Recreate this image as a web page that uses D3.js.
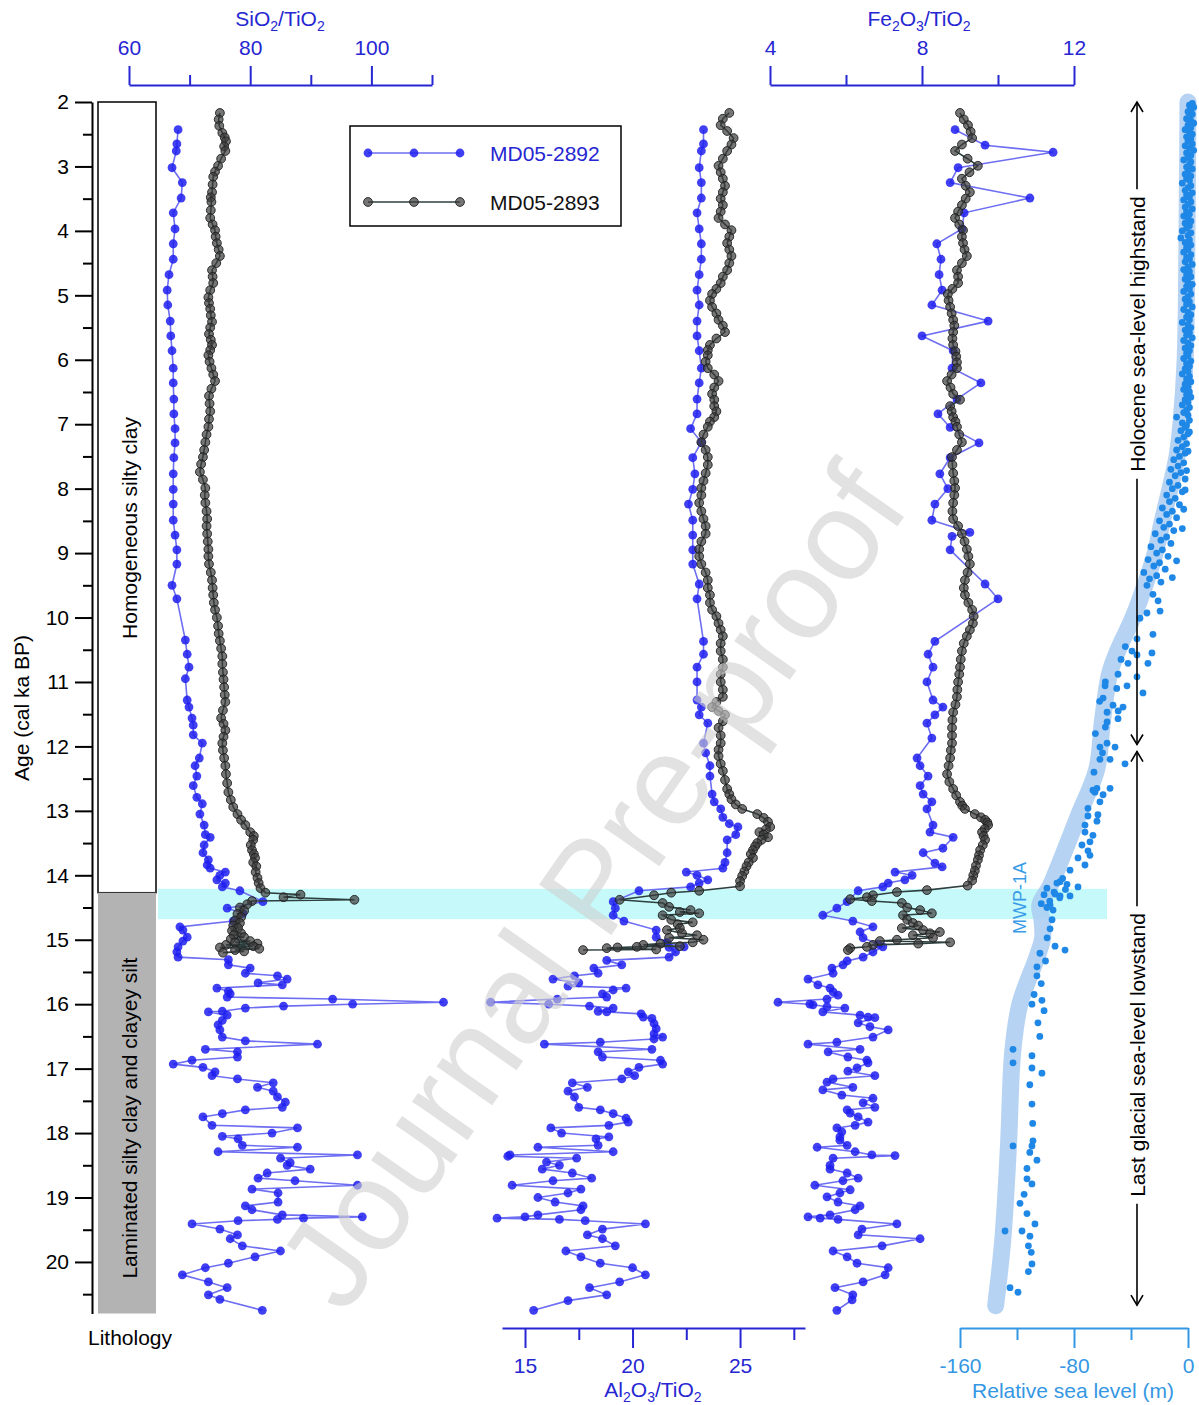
<!DOCTYPE html>
<html>
<head>
<meta charset="utf-8">
<script src="https://cdn.jsdelivr.net/npm/d3@7"></script>
<style>
  body { margin: 0; background: #fff; }
  svg { display: block; }
  text { font-family: "Liberation Sans", Arial, sans-serif; }
</style>
</head>
<body>
<div id="chart"></div>
<script>
// ---- data: [age (cal ka BP), value] ----
const si2892 = [[2.43,68.1],[2.65,67.9],[2.76,67.8],[3.02,67.1],[3.25,68.8],[3.49,68.6],[3.72,67.3],[3.97,67.6],[4.20,67.3],[4.44,67.3],[4.68,66.6],[4.92,66.3],[5.15,66.4],[5.40,66.8],[5.63,66.9],[5.86,67.1],[6.13,67.3],[6.36,67.3],[6.61,67.4],[6.84,67.4],[7.07,67.6],[7.29,67.6],[7.52,67.4],[7.77,67.3],[8.01,67.3],[8.24,67.3],[8.49,67.3],[8.72,67.6],[8.95,67.9],[9.17,67.9],[9.50,67.1],[9.71,67.9],[10.35,69.3],[10.57,69.6],[10.77,69.9],[10.95,69.3],[11.28,69.6],[11.39,69.9],[11.56,70.4],[11.67,70.6],[11.82,70.6],[11.95,72.1],[12.18,71.6],[12.30,70.9],[12.46,71.2],[12.61,70.6],[12.79,71.2],[12.89,72.1],[13.05,71.7],[13.22,72.4],[13.37,72.6],[13.41,73.4],[13.53,72.4],[13.65,72.2],[13.76,73.1],[13.84,72.9],[13.89,73.4],[13.95,75.9],[14.00,75.0],[14.07,74.5],[14.12,75.9],[14.18,75.4],[14.24,78.3],[14.41,82.1],[14.51,76.2],[14.59,78.8],[14.71,77.2],[14.80,68.4],[14.85,68.9],[14.96,69.6],[15.02,68.9],[15.11,68.1],[15.19,67.9],[15.27,68.1],[15.31,76.4],[15.39,76.4],[15.44,80.0],[15.52,79.2],[15.56,84.5],[15.61,86.1],[15.67,81.3],[15.70,85.3],[15.75,74.5],[15.80,76.4],[15.84,76.7],[15.89,76.2],[15.92,93.6],[15.97,111.9],[16.00,96.9],[16.03,85.5],[16.06,79.2],[16.11,75.4],[16.12,73.1],[16.17,76.2],[16.25,75.4],[16.32,74.7],[16.40,75.0],[16.51,75.4],[16.57,79.2],[16.62,91.1],[16.70,72.6],[16.74,77.9],[16.82,77.9],[16.87,70.4],[16.93,67.3],[16.98,72.2],[17.05,74.2],[17.11,73.7],[17.16,77.9],[17.22,83.8],[17.29,81.2],[17.35,83.8],[17.44,84.5],[17.52,85.8],[17.60,85.3],[17.64,79.2],[17.70,75.4],[17.75,72.2],[17.88,73.7],[17.92,87.8],[18.00,83.6],[18.05,75.4],[18.09,78.0],[18.19,78.7],[18.22,87.8],[18.29,74.7],[18.34,97.7],[18.39,85.0],[18.46,86.6],[18.50,86.1],[18.56,89.9],[18.62,82.8],[18.70,81.3],[18.74,87.4],[18.81,97.7],[18.87,80.3],[18.93,84.6],[19.07,84.6],[19.13,79.2],[19.19,80.3],[19.27,85.3],[19.30,98.5],[19.32,88.8],[19.34,84.5],[19.36,78.0],[19.41,70.4],[19.49,75.0],[19.58,77.9],[19.64,76.7],[19.75,78.7],[19.83,85.0],[19.92,80.8],[20.02,76.4],[20.09,72.6],[20.20,68.8],[20.31,73.1],[20.40,76.2],[20.51,73.1],[20.58,75.0],[20.75,82.0]];

const al2892 = [[2.43,23.3],[2.65,23.3],[2.76,23.2],[3.02,23.1],[3.25,23.2],[3.49,23.2],[3.72,23.0],[3.97,23.1],[4.20,23.2],[4.44,23.2],[4.68,23.1],[4.92,23.0],[5.15,23.1],[5.40,23.0],[5.63,23.0],[5.86,23.1],[6.13,23.2],[6.36,23.1],[6.61,23.0],[6.84,23.0],[7.07,22.7],[7.28,23.2],[7.52,22.8],[7.77,22.9],[8.01,22.8],[8.24,22.6],[8.49,22.8],[8.72,22.8],[8.95,22.8],[9.17,22.8],[9.48,23.1],[9.71,23.0],[10.37,23.3],[10.57,23.3],[10.77,23.0],[11.00,23.0],[11.28,23.0],[11.39,23.2],[11.51,23.1],[11.64,23.5],[11.95,23.3],[12.10,23.4],[12.30,23.6],[12.46,23.6],[12.74,23.7],[12.86,23.8],[12.97,24.1],[13.10,24.2],[13.20,24.5],[13.25,24.9],[13.37,24.8],[13.45,24.4],[13.65,24.4],[13.80,24.3],[13.89,24.2],[13.95,22.5],[14.00,23.0],[14.07,23.5],[14.12,23.1],[14.18,22.7],[14.24,20.3],[14.41,19.1],[14.51,19.2],[14.62,19.1],[14.71,19.6],[14.85,21.1],[14.96,21.1],[15.04,21.6],[15.11,22.4],[15.12,21.7],[15.19,22.0],[15.27,21.7],[15.32,18.8],[15.39,19.5],[15.44,18.2],[15.52,18.4],[15.56,17.3],[15.61,16.3],[15.67,17.5],[15.72,17.0],[15.75,19.7],[15.78,19.1],[15.84,18.6],[15.89,18.8],[15.92,16.5],[15.97,13.4],[16.00,16.1],[16.03,18.0],[16.06,19.1],[16.11,18.4],[16.12,18.8],[16.15,20.4],[16.20,20.5],[16.22,20.9],[16.30,21.0],[16.38,21.1],[16.46,21.0],[16.51,21.4],[16.54,21.0],[16.59,18.5],[16.62,15.9],[16.70,20.9],[16.74,18.4],[16.82,18.6],[16.87,21.3],[16.93,21.4],[16.98,20.3],[17.05,19.8],[17.11,20.1],[17.16,19.5],[17.22,17.2],[17.29,17.9],[17.35,17.0],[17.44,17.3],[17.60,17.5],[17.64,18.5],[17.70,19.1],[17.77,19.7],[17.83,19.8],[17.88,18.9],[17.92,16.2],[18.00,16.7],[18.06,18.9],[18.09,18.3],[18.19,18.4],[18.22,15.6],[18.29,19.1],[18.34,14.3],[18.36,14.2],[18.39,17.4],[18.45,16.0],[18.50,16.6],[18.56,15.8],[18.62,17.2],[18.70,18.1],[18.74,16.3],[18.81,14.4],[18.87,17.6],[18.93,17.0],[19.00,15.6],[19.07,16.4],[19.13,17.7],[19.19,17.6],[19.27,15.6],[19.30,15.0],[19.32,13.7],[19.34,16.6],[19.36,17.8],[19.41,20.6],[19.49,18.6],[19.58,17.9],[19.64,18.6],[19.75,19.2],[19.83,16.9],[19.92,17.6],[20.02,18.5],[20.09,20.0],[20.20,20.6],[20.31,19.4],[20.40,18.0],[20.51,18.8],[20.60,17.0],[20.75,15.4]];

const fe2892 = [[2.43,8.87],[2.67,9.66],[2.78,11.45],[3.02,8.95],[3.25,8.74],[3.49,10.84],[3.72,9.11],[3.97,9.05],[4.20,8.39],[4.44,8.50],[4.68,8.45],[4.92,8.53],[5.15,8.26],[5.40,9.74],[5.63,8.00],[5.86,8.82],[6.13,8.79],[6.36,9.55],[6.61,8.92],[6.84,8.42],[7.05,8.74],[7.29,9.50],[7.52,8.74],[7.77,8.47],[8.00,8.68],[8.24,8.34],[8.49,8.26],[8.68,9.26],[8.74,8.79],[8.95,8.74],[9.48,9.66],[9.71,10.0],[10.37,8.34],[10.57,8.16],[10.77,8.29],[11.00,8.13],[11.28,8.29],[11.39,8.55],[11.51,8.34],[11.64,8.13],[11.87,8.26],[12.18,7.87],[12.30,7.95],[12.46,8.16],[12.61,7.95],[12.74,8.03],[12.86,8.26],[12.97,8.13],[13.22,8.29],[13.33,8.21],[13.41,8.82],[13.58,8.55],[13.65,8.03],[13.81,8.34],[13.87,8.53],[13.95,7.29],[14.00,7.74],[14.07,7.55],[14.12,7.11],[14.18,6.97],[14.24,6.32],[14.41,6.03],[14.51,5.76],[14.62,5.39],[14.71,6.18],[14.80,6.71],[14.88,6.37],[14.97,6.45],[15.07,6.84],[15.11,6.97],[15.19,6.71],[15.27,6.45],[15.33,6.03],[15.39,5.92],[15.44,5.63],[15.52,5.66],[15.61,5.00],[15.70,5.26],[15.75,5.58],[15.81,5.66],[15.86,5.79],[15.92,5.50],[15.97,4.21],[16.00,5.05],[16.01,5.13],[16.04,5.50],[16.06,5.97],[16.12,5.39],[16.17,6.37],[16.20,6.58],[16.21,6.76],[16.29,6.32],[16.35,6.63],[16.40,7.11],[16.51,6.71],[16.59,5.76],[16.62,5.00],[16.70,6.37],[16.74,5.53],[16.82,6.05],[16.87,6.55],[16.91,6.58],[16.99,6.29],[17.04,6.05],[17.11,6.76],[17.16,5.66],[17.21,5.50],[17.29,6.18],[17.33,5.39],[17.41,5.89],[17.46,6.71],[17.53,6.45],[17.60,6.76],[17.64,6.03],[17.69,6.11],[17.75,6.32],[17.83,6.58],[17.88,6.24],[17.92,5.76],[17.98,5.89],[18.06,5.84],[18.11,5.84],[18.19,6.03],[18.22,5.24],[18.29,6.24],[18.34,6.68],[18.35,7.29],[18.39,5.66],[18.50,5.58],[18.56,5.58],[18.62,6.03],[18.70,6.32],[18.74,5.92],[18.81,5.18],[18.88,6.11],[18.93,5.84],[18.99,5.50],[19.07,5.79],[19.13,6.37],[19.19,6.24],[19.27,5.58],[19.30,5.00],[19.32,5.32],[19.34,5.79],[19.41,7.34],[19.49,6.42],[19.58,6.32],[19.64,7.95],[19.75,6.95],[19.83,5.66],[19.92,6.03],[20.02,6.29],[20.09,7.11],[20.20,7.03],[20.31,6.45],[20.40,5.71],[20.51,6.18],[20.59,6.16],[20.75,5.76]];

const si2893 = [[2.17,75.0],[2.27,74.8],[2.37,74.9],[2.48,75.4],[2.55,75.8],[2.61,76.0],[2.69,75.7],[2.76,75.9],[2.88,75.2],[2.99,74.7],[3.08,74.2],[3.16,73.9],[3.28,73.8],[3.40,73.7],[3.48,73.5],[3.55,73.6],[3.68,73.5],[3.80,73.4],[3.90,73.8],[3.99,74.2],[4.09,74.3],[4.19,74.5],[4.29,74.8],[4.39,75.0],[4.50,74.4],[4.61,73.7],[4.71,73.8],[4.81,73.9],[4.92,73.4],[5.03,73.1],[5.12,73.2],[5.21,73.4],[5.31,73.5],[5.41,73.7],[5.50,73.4],[5.60,73.2],[5.69,73.5],[5.77,73.7],[5.85,73.4],[5.93,73.1],[6.03,73.3],[6.13,73.6],[6.23,73.9],[6.33,74.2],[6.45,73.6],[6.56,73.2],[6.68,73.3],[6.80,73.4],[6.92,73.2],[7.04,73.1],[7.16,72.8],[7.28,72.6],[7.40,72.4],[7.51,72.2],[7.62,71.9],[7.74,71.7],[7.86,72.2],[7.99,72.6],[8.10,72.5],[8.22,72.6],[8.35,72.8],[8.47,72.9],[8.58,72.8],[8.70,72.9],[8.82,73.0],[8.94,73.1],[9.05,73.1],[9.17,73.2],[9.30,73.5],[9.42,73.7],[9.54,73.8],[9.65,73.9],[9.77,74.0],[9.88,74.2],[10.00,74.5],[10.13,74.7],[10.25,74.8],[10.36,75.0],[10.48,75.2],[10.60,75.4],[10.72,75.4],[10.85,75.5],[10.96,75.6],[11.08,75.7],[11.20,75.8],[11.31,75.9],[11.44,75.5],[11.56,75.2],[11.65,75.6],[11.75,75.9],[11.85,75.6],[11.95,75.4],[12.06,75.5],[12.18,75.7],[12.30,75.9],[12.43,76.0],[12.57,76.2],[12.71,76.4],[12.83,76.8],[12.94,77.2],[13.05,77.9],[13.14,78.5],[13.22,79.2],[13.33,80.0],[13.39,80.6],[13.45,80.5],[13.53,80.1],[13.61,80.3],[13.67,80.6],[13.73,80.8],[13.80,80.5],[13.86,81.0],[13.95,80.9],[14.04,81.2],[14.12,81.4],[14.20,81.7],[14.27,82.5],[14.30,88.3],[14.34,85.5],[14.38,97.2],[14.40,80.3],[14.45,79.5],[14.50,78.3],[14.55,79.0],[14.60,77.9],[14.65,78.5],[14.70,77.5],[14.74,78.3],[14.78,77.2],[14.82,78.0],[14.86,77.0],[14.90,78.5],[14.93,77.3],[14.96,79.0],[14.99,76.8],[15.02,80.0],[15.04,77.5],[15.06,81.2],[15.08,76.0],[15.10,80.5],[15.12,75.0],[15.14,81.5],[15.16,77.5],[15.18,79.0],[15.20,75.5]];

const al2893 = [[2.17,24.5],[2.26,24.2],[2.36,24.1],[2.45,24.4],[2.56,24.7],[2.66,24.6],[2.76,24.4],[2.88,24.2],[2.99,24.0],[3.09,24.1],[3.19,24.2],[3.30,24.3],[3.40,24.2],[3.50,24.1],[3.60,24.2],[3.70,24.1],[3.80,24.0],[3.90,24.3],[3.99,24.6],[4.09,24.5],[4.19,24.4],[4.29,24.5],[4.39,24.6],[4.50,24.5],[4.61,24.4],[4.71,24.2],[4.81,24.1],[4.90,23.9],[4.98,23.7],[5.08,23.6],[5.18,23.7],[5.28,23.9],[5.38,24.0],[5.47,24.2],[5.57,24.3],[5.67,23.9],[5.77,23.6],[5.85,23.5],[5.93,23.5],[6.03,23.4],[6.13,23.5],[6.23,23.8],[6.33,24.0],[6.43,23.8],[6.53,23.7],[6.62,23.8],[6.72,23.8],[6.80,23.9],[6.89,23.8],[6.96,23.6],[7.04,23.5],[7.16,23.3],[7.28,23.2],[7.40,23.4],[7.51,23.5],[7.63,23.5],[7.76,23.4],[7.88,23.3],[7.99,23.2],[8.10,23.2],[8.22,23.1],[8.35,23.2],[8.47,23.3],[8.58,23.4],[8.70,23.4],[8.82,23.2],[8.94,23.1],[9.05,23.1],[9.17,23.2],[9.30,23.4],[9.42,23.5],[9.54,23.5],[9.65,23.6],[9.77,23.6],[9.88,23.7],[9.98,23.9],[10.09,24.0],[10.19,24.1],[10.29,24.2],[10.40,24.1],[10.52,24.1],[10.65,24.2],[10.77,24.2],[10.88,24.1],[11.00,24.1],[11.12,24.2],[11.23,24.2],[11.31,23.9],[11.39,23.7],[11.45,24.0],[11.51,24.3],[11.61,24.2],[11.71,24.0],[11.83,24.1],[11.95,24.1],[12.05,24.0],[12.15,24.0],[12.27,24.1],[12.38,24.2],[12.52,24.3],[12.66,24.4],[12.74,24.5],[12.82,24.6],[12.90,24.8],[12.97,25.1],[13.05,25.8],[13.11,26.1],[13.17,26.3],[13.25,26.4],[13.29,26.2],[13.33,25.9],[13.37,26.1],[13.41,26.3],[13.45,26.0],[13.50,25.8],[13.55,25.7],[13.61,25.6],[13.67,25.5],[13.73,25.6],[13.80,25.4],[13.86,25.3],[13.94,25.2],[14.01,25.1],[14.09,25.0],[14.17,25.0],[14.24,23.1],[14.27,21.8],[14.31,21.0],[14.38,19.4],[14.43,21.4],[14.49,21.7],[14.54,22.7],[14.57,22.2],[14.59,23.1],[14.62,21.4],[14.69,21.8],[14.73,22.8],[14.76,22.1],[14.82,22.2],[14.85,21.6],[14.90,22.3],[14.93,23.0],[14.97,21.7],[15.00,23.3],[15.04,22.8],[15.06,21.3],[15.08,20.5],[15.10,22.2],[15.11,20.2],[15.12,19.3],[15.13,18.8],[15.15,21.1],[15.16,17.7]];

const fe2893 = [[2.17,9.00],[2.27,9.10],[2.36,9.21],[2.46,9.28],[2.56,9.32],[2.66,9.05],[2.76,8.87],[2.88,9.20],[2.99,9.47],[3.09,9.25],[3.19,9.05],[3.30,9.15],[3.40,9.26],[3.50,9.15],[3.60,9.05],[3.70,8.95],[3.80,8.87],[3.90,8.98],[3.99,9.08],[4.09,9.05],[4.19,9.08],[4.29,9.12],[4.39,9.18],[4.50,9.05],[4.61,8.92],[4.71,8.95],[4.81,8.95],[4.90,8.80],[4.98,8.68],[5.08,8.70],[5.18,8.74],[5.28,8.78],[5.38,8.82],[5.47,8.85],[5.57,8.82],[5.67,8.80],[5.77,8.82],[5.87,8.88],[5.95,8.90],[6.04,8.92],[6.13,8.92],[6.23,8.78],[6.33,8.66],[6.43,8.75],[6.53,8.82],[6.62,9.00],[6.72,8.74],[6.80,8.78],[6.89,8.82],[6.96,8.88],[7.04,8.92],[7.16,8.98],[7.28,9.05],[7.40,8.92],[7.51,8.79],[7.63,8.80],[7.76,8.82],[7.88,8.85],[7.99,8.87],[8.10,8.85],[8.22,8.82],[8.35,8.80],[8.47,8.82],[8.58,8.95],[8.70,9.05],[8.82,9.12],[8.94,9.18],[9.05,9.22],[9.17,9.26],[9.30,9.20],[9.42,9.13],[9.54,9.10],[9.65,9.13],[9.77,9.22],[9.88,9.32],[9.98,9.36],[10.09,9.34],[10.19,9.26],[10.29,9.18],[10.40,9.10],[10.52,9.05],[10.65,9.02],[10.77,9.00],[10.88,8.98],[11.00,8.95],[11.12,8.93],[11.23,8.92],[11.35,8.88],[11.47,8.82],[11.59,8.80],[11.71,8.79],[11.83,8.79],[11.95,8.79],[12.06,8.76],[12.18,8.74],[12.30,8.70],[12.43,8.66],[12.55,8.72],[12.66,8.82],[12.76,8.90],[12.86,9.00],[12.92,9.06],[12.97,9.13],[13.05,9.39],[13.10,9.55],[13.14,9.66],[13.18,9.72],[13.22,9.74],[13.28,9.65],[13.33,9.58],[13.39,9.62],[13.45,9.66],[13.53,9.60],[13.61,9.53],[13.69,9.50],[13.76,9.47],[13.85,9.42],[13.93,9.39],[14.00,9.35],[14.08,9.32],[14.16,9.20],[14.23,8.13],[14.26,7.34],[14.31,6.71],[14.34,6.55],[14.37,6.11],[14.40,6.68],[14.43,7.47],[14.50,7.61],[14.54,7.95],[14.59,8.26],[14.62,7.50],[14.69,7.61],[14.74,7.76],[14.78,7.90],[14.82,7.47],[14.85,8.03],[14.88,8.47],[14.90,8.21],[14.93,7.76],[14.97,8.29],[15.00,7.34],[15.02,6.89],[15.04,8.74],[15.06,7.90],[15.08,6.71],[15.11,6.55],[15.13,6.11],[15.16,6.05]];

// relative sea level compilation: [age, m]
const rsl = [[2.02,3],[2.05,1],[2.08,4],[2.12,2],[2.15,0],[2.19,3],[2.22,1],[2.26,-1],[2.29,2],[2.33,4],[2.36,0],[2.40,2],[2.43,-2],[2.47,1],[2.50,3],[2.54,-1],[2.57,2],[2.61,0],[2.65,3],[2.68,-2],[2.72,1],[2.75,4],[2.79,-1],[2.83,2],[2.86,0],[2.90,-3],[2.93,2],[2.97,1],[3.01,-1],[3.04,3],[3.08,0],[3.12,-2],[3.15,2],[3.19,-1],[3.22,1],[3.26,-4],[3.30,2],[3.33,0],[3.37,-2],[3.41,3],[3.44,-1],[3.48,1],[3.52,-3],[3.55,2],[3.59,0],[3.63,-2],[3.66,3],[3.70,-1],[3.74,1],[3.77,-3],[3.81,0],[3.85,2],[3.88,-2],[3.92,1],[3.96,-1],[4.00,-4],[4.03,2],[4.07,0],[4.11,-5],[4.14,1],[4.18,-2],[4.22,2],[4.26,-1],[4.29,0],[4.33,-3],[4.37,2],[4.41,-1],[4.44,1],[4.48,-2],[4.52,3],[4.56,0],[4.60,-3],[4.63,1],[4.67,-1],[4.71,2],[4.75,-2],[4.79,0],[4.83,3],[4.86,-1],[4.90,1],[4.94,-3],[4.98,2],[5.02,0],[5.06,-2],[5.10,1],[5.14,-1],[5.18,3],[5.22,-3],[5.26,0],[5.30,2],[5.34,-1],[5.38,1],[5.42,-4],[5.46,0],[5.50,2],[5.54,-2],[5.58,1],[5.62,-1],[5.66,3],[5.70,-3],[5.74,0],[5.78,2],[5.82,-2],[5.86,1],[5.90,-1],[5.94,0],[5.98,-3],[6.02,2],[6.06,-1],[6.10,1],[6.14,-2],[6.18,0],[6.22,-4],[6.26,1],[6.30,-1],[6.34,2],[6.38,-2],[6.42,0],[6.46,-3],[6.50,1],[6.54,-1],[6.58,2],[6.62,-2],[6.66,0],[6.70,-4],[6.74,1],[6.78,-1],[6.82,-3],[6.86,0],[6.89,-8],[6.94,1],[6.98,-4],[7.02,-1],
  [7.05,-2],[7.10,-5],[7.12,1],[7.15,0],[7.20,-3],[7.25,-7],[7.30,-1],[7.35,-4],[7.40,-8],[7.42,0],[7.45,-2],[7.50,-6],[7.55,-10],[7.60,-3],[7.65,-7],[7.70,-12],[7.72,-1],[7.75,-5],[7.80,-9],[7.85,-2],[7.90,-13],[7.95,-7],[8.00,-11],[8.02,-2],[8.05,-4],[8.10,-15],[8.15,-9],[8.20,-13],[8.25,-6],[8.30,-18],[8.32,-3],[8.35,-11],[8.40,-15],[8.45,-8],[8.50,-20],[8.55,-13],[8.60,-17],[8.62,-4],[8.65,-10],[8.70,-23],[8.75,-15],[8.80,-19],[8.85,-12],[8.90,-26],[8.95,-18],[9.00,-22],[9.05,-14],[9.10,-28],[9.12,-8],[9.15,-20],[9.20,-24],[9.25,-16],[9.30,-31],[9.35,-22],[9.38,-11],[9.40,-27],[9.45,-19],
  [9.50,-28.8],[9.64,-24.6],[9.74,-21.0],[9.90,-19.6],[9.93,-28.8],[10.01,-33.7],[10.26,-24.6],[10.33,-35.8],[10.45,-44],[10.52,-39.3],[10.55,-25.3],[10.58,-35.8],[10.65,-47],[10.71,-42.1],[10.71,-28.1],[10.88,-49.1],[10.92,-35.8],[11.0,-58],[11.06,-42.8],[11.06,-58.2],[11.1,-50],[11.17,-31.6],[11.25,-59.6],[11.3,-62],[11.36,-52.6],[11.39,-45.6],[11.45,-49],[11.47,-56.8],[11.57,-49.1],[11.62,-56.8],[11.7,-58],[11.8,-65],[11.95,-56.8],[12.01,-61.8],[12.01,-51.2],[12.1,-60],[12.20,-54.7],[12.20,-61.8],[12.27,-44.2],[12.4,-66],[12.65,-63.9],[12.65,-54.7],[12.68,-66.7],[12.71,-65.3],[12.75,-59.6],[12.86,-61.8],[12.96,-70.2],[13.06,-63.2],[13.08,-70.2],[13.16,-63.9],[13.22,-72.3],[13.33,-72.3],[13.38,-66.7],[13.48,-68.8],[13.53,-74.4],[13.62,-70.2],[13.69,-68.8],[13.73,-77.2],[13.84,-72.3],[13.92,-82.8],[14.05,-88],[14.10,-89.8],[14.12,-92],[14.14,-84.9],[14.18,-77.2],[14.20,-99],[14.22,-86],[14.26,-94],[14.29,-93.3],[14.30,-101],[14.32,-89.8],[14.32,-82.8],[14.35,-90],[14.40,-97],[14.44,-103],[14.46,-96.8],[14.50,-99],[14.54,-94.7],[14.69,-95.4],[14.83,-96.8],[14.97,-98.9],[15.10,-93.3],[15.16,-86.3],[15.21,-103.9],[15.33,-100],[15.42,-106.0],[15.56,-106.0],[15.68,-103],[15.85,-108],[15.94,-102.5],[16.00,-109.5],[16.1,-101],[16.29,-105.3],[16.5,-104],[16.70,-122.8],[16.80,-109.5],[16.91,-122.8],[16.99,-109.5],[17.07,-102.5],[17.25,-111],[17.55,-109.5],[17.85,-109],[18.12,-108.8],[18.20,-122.8],[18.20,-109.5],[18.30,-111],[18.42,-106.0],[18.55,-113],[18.71,-113.0],[18.79,-109.5],[18.95,-115],[19.09,-117.9],[19.25,-113],[19.41,-107.4],[19.52,-116.5],[19.52,-128.4],[19.60,-110.9],[19.75,-112],[19.85,-110],[20.03,-109.5],[20.15,-112],[20.40,-124.9],[20.47,-119.3]];

// smoothed sea-level envelope
const rslBand = [[2.0,0],[4.0,-0.7],[6.0,-2],[7.0,-5],[7.5,-7.7],[8.0,-12.6],[8.5,-18],[9.0,-23],[9.42,-29],[10.0,-38.6],[10.5,-49],[10.87,-55],[11.6,-60],[12.35,-64],[13.08,-77],[13.81,-90],[14.18,-97],[14.46,-104],[14.69,-102.5],[14.97,-102],[15.27,-106],[16.0,-118],[16.74,-123],[18.2,-126],[19.66,-130],[20.68,-135]];

const ageMajor = [2,3,4,5,6,7,8,9,10,11,12,13,14,15,16,17,18,19,20];
const ageMinor = [2.5,3.5,4.5,5.5,6.5,7.5,8.5,9.5,10.5,11.5,12.5,13.5,14.5,15.5,16.5,17.5,18.5,19.5,20.5];
const siMajor = [60, 80, 100], siMinor = [70, 90, 110];
const feMajor = [4, 8, 12], feMinor = [6, 10];
const alMajor = [15, 20, 25], alMinor = [17.5, 22.5, 27.5];
const rslMajor = [-160, -80, 0], rslMinor = [-120, -40];
const lithoBoundary = 14.27;       // homogeneous clay above, laminated below
const mwp1a = [14.21, 14.68];      // MWP-1A interval
const holoceneSpan = [2, 11.97], glacialSpan = [12.08, 20.67];

// ---- layout ----
const W = 1199, H = 1405;
const FS = "21px";
const blueAxis = "#2626d2", blueDot = "#1f1ff0", blueLine = "#6e6ef2";
const grayDot = "#3c3c3c", grayLine = "#2e3f3f";
const rslColor = "#1f88e6", rslAxis = "#3597e3";

const svg = d3.select("#chart").append("svg").attr("width", W).attr("height", H);

const y = d3.scaleLinear().domain([2, 20.8]).range([102, 1313.5]);
const xSi = d3.scaleLinear().domain([60, 110]).range([129, 432]);
const xFe = d3.scaleLinear().domain([4, 12]).range([770, 1074]);
const xAl = d3.scaleLinear().domain([13.93, 28.02]).range([502, 805]);
const xRsl = d3.scaleLinear().domain([-160, 0]).range([960, 1188]);

// MWP-1A band
svg.append("rect").attr("x", 158).attr("width", 1107 - 158)
  .attr("y", y(mwp1a[0])).attr("height", y(mwp1a[1]) - y(mwp1a[0]))
  .attr("fill", "#c6fafa");

// lithology column
svg.append("rect").attr("x", 98).attr("width", 58).attr("y", y(2)).attr("height", y(lithoBoundary) - y(2))
  .attr("fill", "#fff").attr("stroke", "#000").attr("stroke-width", 1.5);
svg.append("rect").attr("x", 98).attr("width", 58).attr("y", y(lithoBoundary)).attr("height", y(20.8) - y(lithoBoundary))
  .attr("fill", "#b3b3b3");
svg.append("text").attr("transform", `translate(137,528) rotate(-90)`).attr("text-anchor", "middle")
  .style("font-size", FS).text("Homogeneous silty clay");
svg.append("text").attr("transform", `translate(137,${(y(lithoBoundary) + y(20.8)) / 2 + 15}) rotate(-90)`).attr("text-anchor", "middle")
  .style("font-size", FS).text("Laminated silty clay and clayey silt");
svg.append("text").attr("x", 130).attr("y", 1345).attr("text-anchor", "middle").style("font-size", FS).text("Lithology");

// axes helper
function styleAxis(g, color, width) {
  g.selectAll("path,line").attr("stroke", color).attr("stroke-width", width);
  g.selectAll("text").attr("fill", color).style("font-size", FS).attr("font-family", "Liberation Sans, Arial, sans-serif");
}
function drawAxis(gen, scale, major, minor, tr, color, bigTick, smallTick, pad) {
  const g1 = svg.append("g").attr("transform", tr)
    .call(gen(scale).tickValues(major).tickSize(bigTick).tickSizeOuter(0).tickPadding(pad).tickFormat(d => String(d)));
  styleAxis(g1, color, 2);
  const g2 = svg.append("g").attr("transform", tr)
    .call(gen(scale).tickValues(minor).tickSize(smallTick).tickSizeOuter(0).tickFormat(""));
  g2.select(".domain").remove();
  styleAxis(g2, color, 2);
  return g1;
}

// age axis
drawAxis(d3.axisLeft, y, ageMajor, ageMinor, "translate(92,0)", "#000", 17, 9, 6);
svg.append("text").attr("transform", `translate(29,708) rotate(-90)`).attr("text-anchor", "middle")
  .style("font-size", FS).text("Age (cal ka BP)");

// top / bottom axes
drawAxis(d3.axisTop, xSi, siMajor, siMinor, "translate(0,85)", blueAxis, 19, 10, 11);
drawAxis(d3.axisTop, xFe, feMajor, feMinor, "translate(0,85)", blueAxis, 19, 10, 11);
drawAxis(d3.axisBottom, xAl, alMajor, alMinor, "translate(0,1328)", blueAxis, 20, 12, 10);
drawAxis(d3.axisBottom, xRsl, rslMajor, rslMinor, "translate(0,1328)", rslAxis, 20, 12, 10);

function formula(x, yb, parts, color) {
  const t = svg.append("text").attr("x", x).attr("y", yb).attr("text-anchor", "middle")
    .attr("fill", color).style("font-size", FS);
  let prevSub = false;
  parts.forEach(([s, sub]) => {
    const sp = t.append("tspan").text(s);
    if (sub) sp.attr("font-size", 14);
    if (sub && !prevSub) sp.attr("dy", 5);
    if (!sub && prevSub) sp.attr("dy", -5);
    prevSub = sub;
  });
}
formula(280, 26, [["SiO", 0], ["2", 1], ["/TiO", 0], ["2", 1]], blueAxis);
formula(919, 26, [["Fe", 0], ["2", 1], ["O", 0], ["3", 1], ["/TiO", 0], ["2", 1]], blueAxis);
formula(653, 1397, [["Al", 0], ["2", 1], ["O", 0], ["3", 1], ["/TiO", 0], ["2", 1]], blueAxis);
svg.append("text").attr("x", 1073).attr("y", 1398).attr("text-anchor", "middle").attr("fill", rslAxis)
  .style("font-size", FS).text("Relative sea level (m)");

// sea level envelope and points
svg.append("path").datum(rslBand)
  .attr("d", d3.line().x(d => xRsl(d[1])).y(d => y(d[0])).curve(d3.curveCatmullRom))
  .attr("fill", "none").attr("stroke", "#a9cbf1").attr("stroke-width", 17)
  .attr("stroke-linecap", "round").attr("stroke-opacity", 0.85);
svg.append("g").selectAll("circle").data(rsl).join("circle")
  .attr("cx", d => xRsl(d[1])).attr("cy", d => y(d[0])).attr("r", 3.4)
  .attr("fill", rslColor);

// geochemical series
function series(data, x, lineColor, fill, stroke, opacity) {
  const d = data.slice().sort((a, b) => a[0] - b[0]);
  const g = svg.append("g");
  g.append("path").datum(d)
    .attr("d", d3.line().x(p => x(p[1])).y(p => y(p[0])))
    .attr("fill", "none").attr("stroke", lineColor).attr("stroke-width", 1.6);
  g.selectAll("circle").data(d).join("circle")
    .attr("cx", p => x(p[1])).attr("cy", p => y(p[0])).attr("r", 4.4)
    .attr("fill", fill).attr("fill-opacity", opacity)
    .attr("stroke", stroke).attr("stroke-width", stroke === "none" ? 0 : 0.9);
}
series(si2892, xSi, blueLine, blueDot, "none", 0.85);
series(al2892, xAl, blueLine, blueDot, "none", 0.85);
series(fe2892, xFe, blueLine, blueDot, "none", 0.85);
series(si2893, xSi, grayLine, grayDot, "#1e1e1e", 0.7);
series(al2893, xAl, grayLine, grayDot, "#1e1e1e", 0.7);
series(fe2893, xFe, grayLine, grayDot, "#1e1e1e", 0.7);

// legend
const lg = svg.append("g");
lg.append("rect").attr("x", 350).attr("y", 126).attr("width", 271).attr("height", 100)
  .attr("fill", "#fff").attr("stroke", "#000").attr("stroke-width", 1.5);
[[153, blueLine, blueDot, "none", 0.85, "MD05-2892", blueAxis], [202, grayLine, grayDot, "#1e1e1e", 0.7, "MD05-2893", "#111"]]
  .forEach(([ly, lc, fc, sc, op, name, tc]) => {
    lg.append("line").attr("x1", 368).attr("x2", 460).attr("y1", ly).attr("y2", ly).attr("stroke", lc).attr("stroke-width", 1.6);
    [368, 414, 460].forEach(cx => lg.append("circle").attr("cx", cx).attr("cy", ly).attr("r", 4.4)
      .attr("fill", fc).attr("fill-opacity", op).attr("stroke", sc).attr("stroke-width", sc === "none" ? 0 : 0.9));
    lg.append("text").attr("x", 490).attr("y", ly + 7.5).attr("fill", tc).style("font-size", FS).text(name);
  });

// MWP-1A label
svg.append("text").attr("transform", `translate(1026,${(y(mwp1a[0]) + y(mwp1a[1])) / 2 - 6}) rotate(-90)`)
  .attr("text-anchor", "middle").attr("fill", "#3a9ce8").style("font-size", "18px").text("MWP-1A");

// sea-level stage arrows
function stage(span, centerY, label) {
  const ax = 1137, top = y(span[0]), bot = y(span[1]);
  const t = svg.append("text").attr("transform", `translate(${ax + 7.5},${centerY}) rotate(-90)`)
    .attr("text-anchor", "middle").style("font-size", FS).text(label);
  const half = t.node().getComputedTextLength() / 2 + 7;
  const g = svg.append("g").attr("stroke", "#000").attr("stroke-width", 1.6).attr("fill", "none");
  g.append("line").attr("x1", ax).attr("x2", ax).attr("y1", top).attr("y2", centerY - half);
  g.append("line").attr("x1", ax).attr("x2", ax).attr("y1", centerY + half).attr("y2", bot);
  g.append("path").attr("d", `M${ax - 6},${top + 10}L${ax},${top}L${ax + 6},${top + 10}`);
  g.append("path").attr("d", `M${ax - 6},${bot - 10}L${ax},${bot}L${ax + 6},${bot - 10}`);
}
stage(holoceneSpan, 334, "Holocene sea-level highstand");
stage(glacialSpan, 1055, "Last glacial sea-level lowstand");

// watermark
svg.append("text").attr("transform", "translate(590,885) rotate(-55)")
  .attr("text-anchor", "middle").attr("dy", "0.36em")
  .attr("fill", "#cfcfcf").attr("fill-opacity", 0.6)
  .style("font-size", "128px").text("Journal Pre-proof");
</script>
</body>
</html>
